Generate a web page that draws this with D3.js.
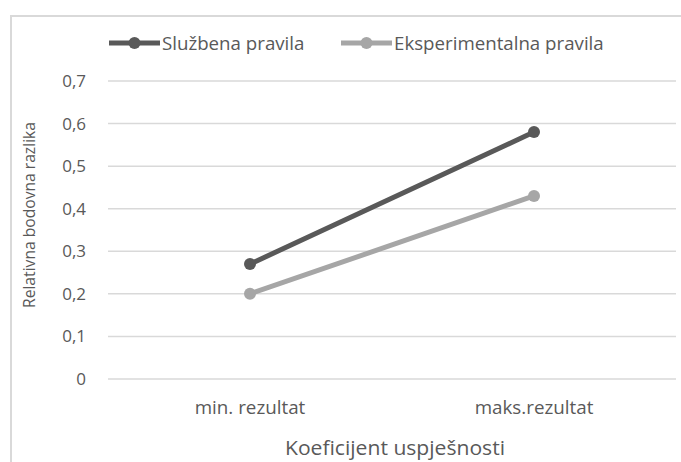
<!DOCTYPE html>
<html><head><meta charset="utf-8">
<script src="https://cdn.jsdelivr.net/npm/d3@7"></script>
<style>body{margin:0;background:#fff}svg{display:block}text{font-family:"Open Sans","Noto Sans",sans-serif;fill:#595959}</style>
</head><body>
<svg id="c" width="681" height="462"></svg>
<script>
const categories = ["min. rezultat", "maks.rezultat"];
const seriesNames = ["Službena pravila", "Eksperimentalna pravila"];
const sluzbena = [0.27, 0.58];
const eksperimentalna = [0.20, 0.43];
const yTicks = [0, 0.1, 0.2, 0.3, 0.4, 0.5, 0.6, 0.7];
const colors = ["#595959", "#a6a6a6"];
const series = [sluzbena, eksperimentalna];

(function () {
const svg = d3.select("#c");
svg.append("path").attr("d", "M11,462 V16 H681").attr("fill", "none").attr("stroke", "#d9d9d9").attr("stroke-width", 2);

const pl = 108, pr = 676, pt = 81, pb = 379;
const x = d3.scaleBand().domain(categories).range([pl, pr]);
const y = d3.scaleLinear().domain([0, 0.7]).range([pb, pt]);
const fmt = v => v === 0 ? "0" : d3.format(".1f")(v).replace(".", ",");
const ff = '"Open Sans","Noto Sans",sans-serif';

svg.append("g").selectAll("line").data(yTicks).join("line")
  .attr("x1", pl).attr("x2", pr)
  .attr("y1", d => y(d)).attr("y2", d => y(d))
  .attr("stroke", "#d9d9d9").attr("stroke-width", 1.5);

const yAxis = d3.axisLeft(y).tickValues(yTicks).tickFormat(fmt).tickSize(0).tickPadding(0);
const ya = svg.append("g").attr("transform", `translate(${pl - 22},0)`).call(yAxis);
ya.select(".domain").remove();
ya.selectAll("text").attr("font-size", 17).style("font-family", ff).attr("fill", "#595959");

const xAxis = d3.axisBottom(x).tickSize(0).tickPadding(0);
const xa = svg.append("g").attr("transform", `translate(0,${pb + 22})`).call(xAxis);
xa.select(".domain").remove();
xa.selectAll("text").attr("font-size", 18.8).style("font-family", ff).attr("fill", "#595959");

const line = d3.line().x((d, i) => x(categories[i]) + x.bandwidth() / 2).y(d => y(d));
series.forEach((s, k) => {
  svg.append("path").attr("d", line(s)).attr("fill", "none").attr("stroke", colors[k]).attr("stroke-width", 5).attr("stroke-linecap", "round");
  svg.append("g").selectAll("circle").data(s).join("circle")
    .attr("cx", (d, i) => x(categories[i]) + x.bandwidth() / 2).attr("cy", d => y(d))
    .attr("r", 6).attr("fill", colors[k]);
});

const legX = [109, 341];
seriesNames.forEach((n, k) => {
  const lg = svg.append("g").attr("transform", `translate(${legX[k]},43)`);
  lg.append("line").attr("x1", 0).attr("x2", 51).attr("y1", 0).attr("y2", 0).attr("stroke", colors[k]).attr("stroke-width", 5);
  lg.append("circle").attr("cx", 25.5).attr("cy", 0).attr("r", 6).attr("fill", colors[k]);
  lg.append("text").attr("x", 53).attr("y", 0).attr("dy", "0.35em").attr("font-size", 18.7).text(n);
});

svg.append("text").attr("x", 395).attr("y", 455).attr("text-anchor", "middle").attr("font-size", 20)
  .attr("textLength", 220).attr("lengthAdjust", "spacingAndGlyphs").text("Koeficijent uspješnosti");
svg.append("text").attr("transform", "translate(29,215) rotate(-90)").attr("dy", "0.35em").attr("text-anchor", "middle").attr("font-size", 16.5)
  .attr("textLength", 186).attr("lengthAdjust", "spacingAndGlyphs").text("Relativna bodovna razlika");
})();
</script>
</body></html>
